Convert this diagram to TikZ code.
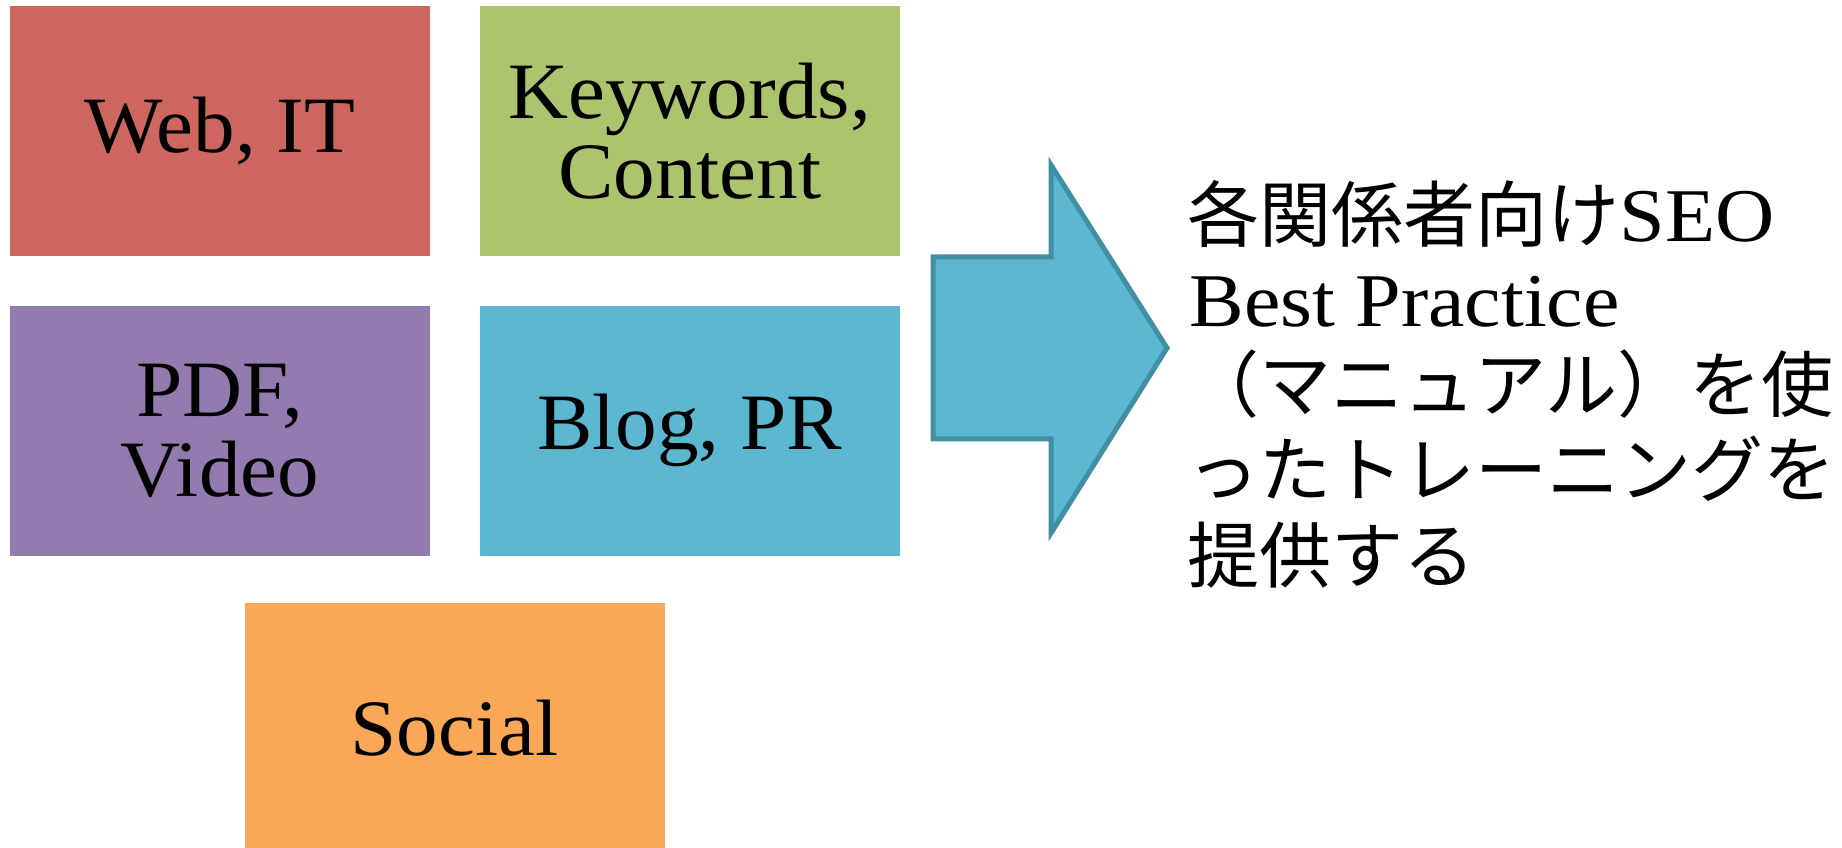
\documentclass[tikz,border=0pt]{standalone}
\usepackage{fontspec}
\setmainfont{Liberation Serif}[FakeStretch=1.04]
\newfontfamily\jpfont{Noto Sans CJK JP}
\newfontfamily\latfont{Liberation Serif}[FakeStretch=1.08]
\usetikzlibrary{positioning}
\definecolor{webred}{RGB}{205,103,96}
\definecolor{keygreen}{RGB}{172,196,109}
\definecolor{pdfpurple}{RGB}{147,123,176}
\definecolor{blogblue}{RGB}{91,184,208}
\definecolor{socialorange}{RGB}{249,168,88}
\definecolor{arrowedge}{RGB}{64,143,163}
\tikzset{tile/.style={rectangle,minimum width=8.4cm,minimum height=5cm,inner sep=0pt,align=center,font=\fontsize{45.5}{45.5}\selectfont},
jpline/.style={anchor=base west,inner sep=0pt,font=\fontsize{41}{41}\selectfont}}
\newcommand{\lat}[1]{{\latfont\fontsize{43.2}{43.2}\selectfont #1}}

\begin{document}
\begin{tikzpicture}
\useasboundingbox (0,0) rectangle (36.84,16.94);
\clip (0,0) rectangle (36.84,16.94);
% the five topic tiles
\node[tile,fill=webred] (web) at (4.4,14.32) {Web, IT};
\node[tile,fill=keygreen,right=0.98cm of web] (keywords) {Keywords,\\Content};
\node[tile,fill=pdfpurple,below=0.98cm of web] (pdf) {PDF,\\Video};
\node[tile,fill=blogblue,below=0.98cm of keywords] (blog) {Blog, PR};
\node[tile,fill=socialorange] (social) at (9.09,2.38) {Social};
% block arrow
\draw[arrowedge,fill=blogblue,line width=1mm,line join=miter] (18.66,11.8) -- (21.02,11.8) -- (21.02,13.64) -- (23.34,9.98) -- (21.02,6.28) -- (21.02,8.16) -- (18.66,8.16) -- cycle;
% result text
\node[jpline] (line1) at (23.74,12.1) {\jpfont 各関係者向け\lat{SEO}};
\node[jpline] (line2) at (23.78,10.4) {\lat{Best Practice}};
\node[jpline] (line3) at (23.74,8.7) {\jpfont （マニュアル）を使};
\node[jpline] (line4) at (23.74,7.0) {\jpfont ったトレーニングを};
\node[jpline] (line5) at (23.74,5.3) {\jpfont 提供する};
\end{tikzpicture}
\end{document}
